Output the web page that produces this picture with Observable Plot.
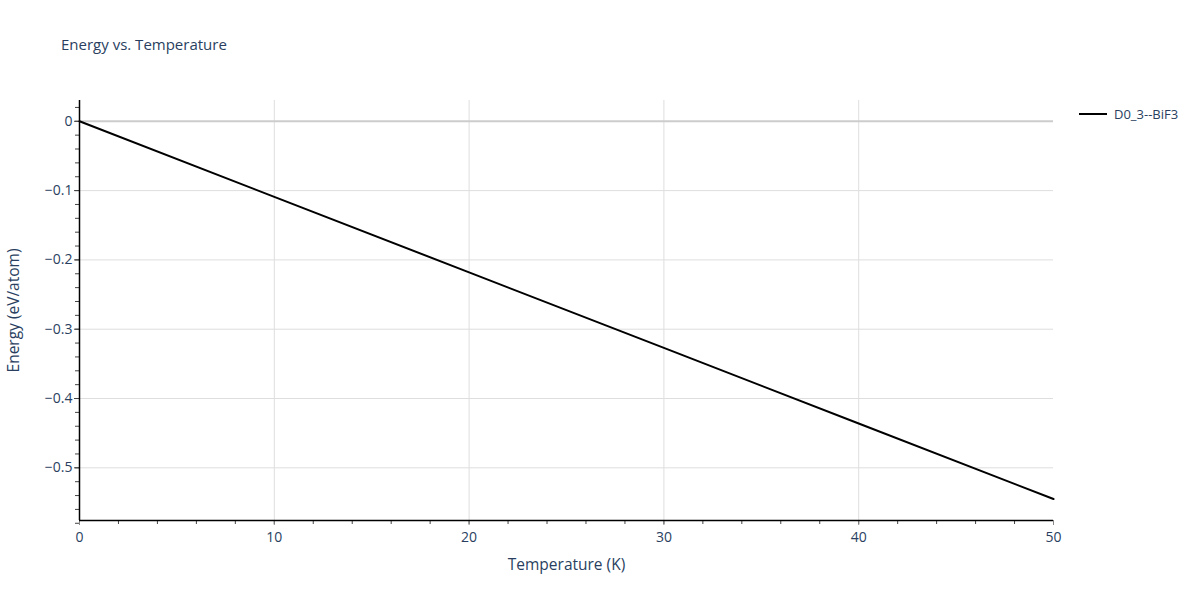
<!DOCTYPE html>
<html>
<head>
<meta charset="utf-8">
<script src="https://cdn.jsdelivr.net/npm/d3@7"></script>
<script src="https://cdn.jsdelivr.net/npm/@observablehq/plot@0.6"></script>
<style>
  body { margin: 0; background: #fff; font-family: "Open Sans", Arial, sans-serif; }
  #wrap { position: relative; width: 1200px; height: 600px; }
  #title { position: absolute; left: 61px; top: 34px; font-size: 15px; color: #2a3f5f; }
  #legend { position: absolute; left: 1079px; top: 105px; font-size: 13px; color: #2a3f5f; display: flex; align-items: center; }
  #legend .sw { width: 28px; height: 0; border-top: 2px solid #000; margin-right: 7px; }
  #chart svg g[aria-label$="tick label"] { font-size: 14px !important; }
  #chart svg g[aria-label$="tick label"] text { font-size: 14px !important; }
  #chart svg g[aria-label$="axis label"] text { font-size: 15.5px !important; }
</style>
</head>
<body>
<div id="wrap">
  <div id="chart"></div>
  <div id="title">Energy vs. Temperature</div>
  <div id="legend"><span class="sw"></span><span>D0_3--BiF3</span></div>
</div>
<script>
const seriesName = "D0_3--BiF3";
const temperature = [0, 10, 20, 30, 40, 50];
const energy = [0, -0.109, -0.218, -0.327, -0.436, -0.545];
const xTicks = [0, 10, 20, 30, 40, 50];
const yTicks = [0, -0.1, -0.2, -0.3, -0.4, -0.5];
const xMinor = d3.range(0, 50.001, 2);
const yMinor = d3.range(0.02, -0.5801, -0.02).map(v => +v.toFixed(2));

const data = temperature.map((t, i) => ({t, e: energy[i]}));
const chart = Plot.plot({
  width: 1200,
  height: 600,
  marginLeft: 79,
  marginRight: 147,
  marginTop: 100,
  marginBottom: 80,
  style: {fontFamily: "'Open Sans', Arial, sans-serif", fontSize: "13.5px", color: "#2a3f5f", background: "#fff"},
  x: {domain: [0, 50]},
  y: {domain: [-0.576, 0.030]},
  marks: [
    Plot.ruleX(xTicks.filter(v => v > 0 && v < 50), {stroke: "#dedede", strokeWidth: 1, strokeOpacity: 1}),
    Plot.ruleY(yTicks.filter(v => v !== 0), {stroke: "#dedede", strokeWidth: 1, strokeOpacity: 1}),
    Plot.ruleY([0], {stroke: "#cccccc", strokeWidth: 2, strokeOpacity: 1}),
    Plot.axisX({ticks: xMinor, tickSize: 4, text: null, stroke: "#444", label: null}),
    Plot.axisX({ticks: xTicks, tickSize: 5, tickPadding: 7, stroke: "#888", fill: "#2a3f5f",
      label: "Temperature (K)", labelAnchor: "center", labelArrow: "none", labelOffset: 49}),
    Plot.axisY({ticks: yMinor, tickSize: 4, text: null, stroke: "#444", label: null}),
    Plot.axisY({ticks: yTicks, tickSize: 5, tickPadding: 2, stroke: "#444", fill: "#2a3f5f",
      tickFormat: d => d === 0 ? "0" : "\u2212" + Math.abs(d).toFixed(1),
      label: "Energy (eV/atom)", labelAnchor: "center", labelArrow: "none", labelOffset: 72}),
    Plot.ruleX([0], {stroke: "#000", strokeWidth: 1.5}),
    Plot.ruleY([-0.576], {stroke: "#000", strokeWidth: 1.5}),
    Plot.line(data, {x: "t", y: "e", stroke: "#000", strokeWidth: 2})
  ]
});
document.getElementById("chart").appendChild(chart);
</script>
</body>
</html>
